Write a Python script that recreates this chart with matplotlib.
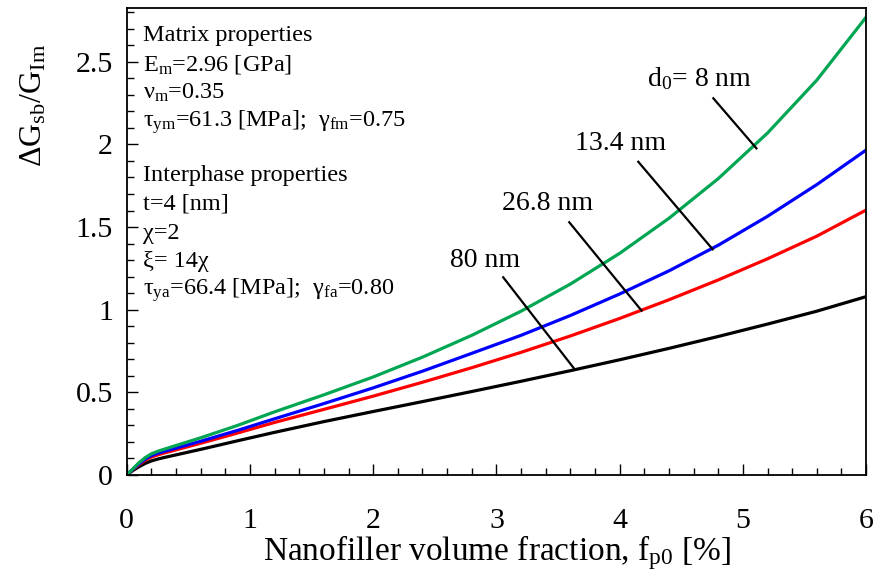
import matplotlib
matplotlib.use('Agg')
import matplotlib.pyplot as plt
from matplotlib.ticker import MultipleLocator

plt.rcParams['font.family'] = ['Liberation Serif', 'DejaVu Serif']
plt.rcParams['mathtext.fontset'] = 'custom'
plt.rcParams['mathtext.rm'] = 'Liberation Serif'
plt.rcParams['mathtext.it'] = 'Liberation Serif:italic'

# volume fraction [%]
fp0 = [0, 0.05, 0.1, 0.15, 0.2, 0.25, 0.3, 0.45, 0.6, 0.9, 1.2, 1.6, 2, 2.4, 2.8, 3.2,
       3.6, 4, 4.4, 4.8, 5.2, 5.6, 6]

# dG_sb / G_Im for each nanofiller diameter
g_8nm = [0, 0.037, 0.075, 0.105, 0.128, 0.143, 0.155, 0.19, 0.225, 0.30, 0.382, 0.485,
         0.593, 0.713, 0.845, 0.991, 1.155, 1.341, 1.553, 1.793, 2.069, 2.389, 2.77]
g_13nm = [0, 0.035, 0.068, 0.096, 0.117, 0.131, 0.142, 0.173, 0.204, 0.27, 0.34, 0.432,
          0.527, 0.628, 0.736, 0.845, 0.965, 1.095, 1.235, 1.39, 1.565, 1.757, 1.966]
g_27nm = [0, 0.033, 0.063, 0.089, 0.108, 0.121, 0.132, 0.162, 0.192, 0.254, 0.318, 0.397,
          0.477, 0.561, 0.649, 0.742, 0.841, 0.947, 1.06, 1.18, 1.308, 1.445, 1.603]
g_80nm = [0, 0.027, 0.05, 0.07, 0.085, 0.096, 0.105, 0.13, 0.155, 0.207, 0.258, 0.323,
          0.384, 0.444, 0.505, 0.567, 0.631, 0.697, 0.766, 0.838, 0.913, 0.991, 1.079]

fig = plt.figure(figsize=(8.74, 5.74), dpi=100)
ax = fig.add_axes([0.145, 0.1725, 0.846, 0.8135])

ax.plot(fp0, g_80nm, color='black', lw=2.3, solid_joinstyle='round')
ax.plot(fp0, g_27nm, color='#ff0000', lw=2.3, solid_joinstyle='round')
ax.plot(fp0, g_13nm, color='#0000ff', lw=2.3, solid_joinstyle='round')
ax.plot(fp0, g_8nm, color='#00a651', lw=2.3, solid_joinstyle='round')

# labels with leader lines: text, line start, line end, text position
labels = [('d$_\\mathregular{0}$= 8 nm', (4.76, 2.279), (5.11, 1.976), (4.22, 2.353)),
          ('13.4 nm', (4.151, 1.895), (4.755, 1.365), (3.637, 1.966)),
          ('26.8 nm', (3.591, 1.529), (4.178, 0.994), (3.044, 1.603)),
          ('80 nm', (3.055, 1.196), (3.629, 0.645), (2.622, 1.258))]
for txt, p0, p1, tp in labels:
    ax.plot([p0[0], p1[0]], [p0[1], p1[1]], color='black', lw=1.6)
    ax.text(tp[0], tp[1], txt, fontsize=20, va='baseline', ha='left')

info = ['Matrix properties',
        'E$_\\mathregular{m}$=2.96 [GPa]',
        'ν$_\\mathregular{m}$=0.35',
        'τ$_\\mathregular{ym}$=61.3 [MPa];  γ$_\\mathregular{fm}$=0.75',
        'Interphase properties',
        't=4 [nm]',
        'χ=2',
        'ξ= 14χ',
        'τ$_\\mathregular{ya}$=66.4 [MPa];  γ$_\\mathregular{fa}$=0.80']
ypix = [36, 64, 93, 122, 175, 204, 233, 262, 290]
for s, yp in zip(info, ypix):
    ax.text(143 / 874, 1 - yp / 574, s, fontsize=17.5, transform=fig.transFigure,
            va='center', ha='left')

ax.set_xlim(0, 6)
ax.set_ylim(0, 2.825)
ax.xaxis.set_major_locator(MultipleLocator(1))
ax.xaxis.set_minor_locator(MultipleLocator(0.2))
ax.yaxis.set_minor_locator(MultipleLocator(0.1))
ax.set_yticks([0, 0.5, 1, 1.5, 2, 2.5])
ax.set_yticklabels(['0', '0.5', '1', '1.5', '2', '2.5'])
ax.tick_params(which='both', direction='in', top=False, right=False, width=1)
ax.tick_params(which='major', length=8, labelsize=21.5)
ax.tick_params(axis='x', which='major', pad=24)
ax.tick_params(axis='y', which='major', pad=10)
ax.tick_params(which='minor', length=5)
for sp in ax.spines.values():
    sp.set_linewidth(1.3)

ax.set_xlabel('Nanofiller volume fraction, f$_\\mathregular{p0}$ [%]', fontsize=24, labelpad=-1)
ax.set_ylabel('ΔG$_\\mathregular{sb}$/G$_\\mathregular{Im}$', fontsize=23)
ax.yaxis.set_label_coords(-0.106, 0.792)

fig.savefig('out.png', dpi=100)
